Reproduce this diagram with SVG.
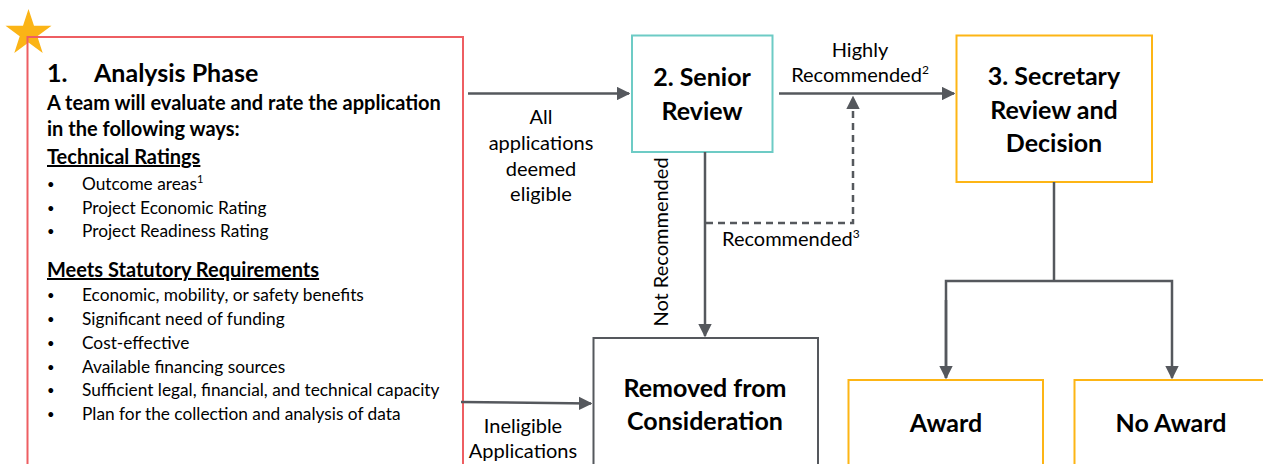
<svg xmlns="http://www.w3.org/2000/svg" width="1263" height="464" viewBox="0 0 1263 464">
<defs>
<style>
text{font-family:Lato,"Open Sans","Liberation Sans",sans-serif;fill:#000}
.h{font-size:25px;font-weight:bold}
.b{font-size:20px;font-weight:bold}
.r{font-size:17.3px}
.d{font-size:13px}
.l{font-size:20px}
.c{text-anchor:middle}
.con{fill:none;stroke:#55585D;stroke-width:2.5}
</style>
<marker id="ah" viewBox="0 0 10 10" refX="9" refY="5" markerWidth="5.5" markerHeight="5.5" orient="auto" markerUnits="strokeWidth">
<path d="M0,0 L10,5 L0,10 Z" fill="#55585D"/>
</marker>
</defs>
<rect width="1263" height="464" fill="#fff"/>

<g id="star">
<polygon points="28.5,9 34,25.8 51.5,25.8 37.3,36.2 42.7,53 28.5,42.6 14.3,53 19.7,36.2 5.5,25.8 23,25.8" fill="#FBB416"/>
</g>

<g id="analysis">
<rect x="27.5" y="37" width="435.5" height="440" fill="none" stroke="#EE5E62" stroke-width="2"/>
<text class="h" x="47" y="82">1.</text>
<text class="h" x="94" y="82">Analysis Phase</text>
<text class="b" x="47" y="110">A team will evaluate and rate the application</text>
<text class="b" x="47" y="136">in the following ways:</text>
<text class="b" x="47" y="164" text-decoration="underline">Technical Ratings</text>
<text class="d" x="47" y="189">•</text><text class="r" x="82" y="190">Outcome areas<tspan font-size="11" dy="-7">1</tspan></text>
<text class="d" x="47" y="213">•</text><text class="r" x="82" y="214">Project Economic Rating</text>
<text class="d" x="47" y="236">•</text><text class="r" x="82" y="237">Project Readiness Rating</text>
<text class="b" x="47" y="277" text-decoration="underline">Meets Statutory Requirements</text>
<text class="d" x="47" y="300">•</text><text class="r" x="82" y="301">Economic, mobility, or safety benefits</text>
<text class="d" x="47" y="324">•</text><text class="r" x="82" y="325">Significant need of funding</text>
<text class="d" x="47" y="348">•</text><text class="r" x="82" y="349">Cost-effective</text>
<text class="d" x="47" y="372">•</text><text class="r" x="82" y="373">Available financing sources</text>
<text class="d" x="47" y="395">•</text><text class="r" x="82" y="396">Sufficient legal, financial, and technical capacity</text>
<text class="d" x="47" y="419">•</text><text class="r" x="82" y="420">Plan for the collection and analysis of data</text>
</g>

<g id="senior">
<rect x="632" y="35.5" width="140.5" height="116.5" fill="#fff" stroke="#6DCBC5" stroke-width="2"/>
<text class="h c" x="702" y="86">2. Senior</text>
<text class="h c" x="702" y="120">Review</text>
</g>

<g id="secretary">
<rect x="956.5" y="35.5" width="195.5" height="146.5" fill="#fff" stroke="#FDB515" stroke-width="2"/>
<text class="h c" x="1054" y="85">3. Secretary</text>
<text class="h c" x="1054" y="119">Review and</text>
<text class="h c" x="1054" y="152">Decision</text>
</g>

<g id="removed">
<rect x="593.5" y="338" width="224.5" height="140" fill="#fff" stroke="#55585D" stroke-width="2"/>
<text class="h c" x="705" y="397">Removed from</text>
<text class="h c" x="705" y="430">Consideration</text>
</g>

<g id="award">
<rect x="848.5" y="380" width="194.5" height="100" fill="#fff" stroke="#FDB515" stroke-width="2"/>
<text class="h c" x="946" y="432">Award</text>
</g>

<g id="noaward">
<rect x="1074.5" y="380" width="200" height="100" fill="#fff" stroke="#FDB515" stroke-width="2"/>
<text class="h c" x="1171" y="432">No Award</text>
</g>

<g id="connectors">
<line class="con" x1="468" y1="93.5" x2="629" y2="93.5" marker-end="url(#ah)"/>
<line class="con" x1="779" y1="93.5" x2="954" y2="93.5" marker-end="url(#ah)"/>
<polyline class="con" points="706,223 853,223 853,97" stroke-dasharray="7,5" marker-end="url(#ah)"/>
<line class="con" x1="705" y1="152" x2="705" y2="336" marker-end="url(#ah)"/>
<line class="con" x1="461" y1="402" x2="591" y2="403.5" marker-end="url(#ah)"/>
<polyline class="con" points="1054,182 1054,281"/>
<polyline class="con" points="946,378 946,281 1172,281 1172,378" marker-end="url(#ah)"/>
<line class="con" x1="946" y1="300" x2="946" y2="378" marker-end="url(#ah)"/>
</g>

<g id="labels">
<text class="l c" x="541" y="124">All</text>
<text class="l c" x="541" y="150">applications</text>
<text class="l c" x="541" y="176">deemed</text>
<text class="l c" x="541" y="201">eligible</text>
<text class="l c" x="860" y="57">Highly</text>
<text class="l c" x="860" y="82">Recommended<tspan font-size="12" dy="-8">2</tspan></text>
<text class="l" x="722" y="246">Recommended<tspan font-size="12" dy="-8">3</tspan></text>
<text class="l c" transform="translate(668,242) rotate(-90)">Not Recommended</text>
<text class="l c" x="523" y="433">Ineligible</text>
<text class="l c" x="523" y="458">Applications</text>
</g>
</svg>
